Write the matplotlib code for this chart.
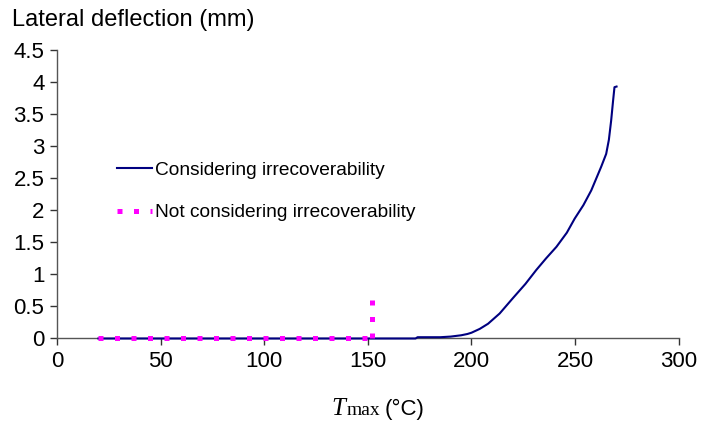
import matplotlib.pyplot as plt

plt.rcParams['font.family'] = ['Liberation Sans', 'DejaVu Sans']

# deflection vs max temperature, with and without irrecoverable strain
t_irr = [20, 173, 174, 185, 190, 195, 198, 200, 204, 208, 213.6, 220, 226,
         231.3, 236, 241, 246, 249.8, 254, 257.8, 262.6, 265, 266.3, 267.4,
         268.3, 269, 270]
d_irr = [0.0, 0.0, 0.02, 0.02, 0.03, 0.05, 0.07, 0.09, 0.15, 0.23, 0.39,
         0.63, 0.85, 1.07, 1.25, 1.43, 1.65, 1.87, 2.08, 2.31, 2.68, 2.88,
         3.1, 3.4, 3.7, 3.92, 3.93]

t_rec = [20, 151]
d_rec = [0.0, 0.0]
t_jump = [152, 152]
d_jump = [0.0, 0.6]

xticks = [0, 50, 100, 150, 200, 250, 300]
yticks = [0, 0.5, 1, 1.5, 2, 2.5, 3, 3.5, 4, 4.5]
ytick_labels = ['0', '0.5', '1', '1.5', '2', '2.5', '3', '3.5', '4', '4.5']

fig = plt.figure(figsize=(7.07, 4.30), dpi=100)
ax = fig.add_axes([0.0806, 0.2128, 0.8794, 0.6709])

dots = dict(color='#FF00FF', lw=3.6, linestyle=(0, (1, 2.3)),
            dash_capstyle='butt', clip_on=False, zorder=4)

ax.plot(t_irr, d_irr, color='#000080', lw=1.5, clip_on=False,
        label='Considering irrecoverability', zorder=3)
ax.plot(t_rec, d_rec, label='Not considering irrecoverability', **dots)
ax.plot(t_jump, d_jump, **dots)

ax.set_xlim(0, 300)
ax.set_ylim(0, 4.5)
ax.set_xticks(xticks)
ax.set_yticks(yticks)
ax.set_yticklabels(ytick_labels)
ax.tick_params(labelsize=16, length=5, width=1, color='#333333', pad=4)
for s in ['top', 'right']:
    ax.spines[s].set_visible(False)
for s in ['left', 'bottom']:
    ax.spines[s].set_color('#555555')
    ax.spines[s].set_linewidth(1)

leg = ax.legend(loc='upper left', bbox_to_anchor=(0.085, 0.64), frameon=False,
                fontsize=13.8, handlelength=1.8, handletextpad=0.15,
                labelspacing=1.3, borderaxespad=0)

fig.text(0.017, 0.953, 'Lateral deflection (mm)', fontsize=17, va='center')

# axis title: italic T with small "max" subscript, then the unit
fig.text(0.469, 0.035, 'T', family='Liberation Serif', style='italic',
         fontsize=18, ha='left', va='baseline')
fig.text(0.490, 0.035, 'max', family='Liberation Serif', fontsize=14,
         ha='left', va='baseline')
fig.text(0.544, 0.035, '(°C)', fontsize=16, ha='left', va='baseline')

fig.savefig('out.png', dpi=100)
